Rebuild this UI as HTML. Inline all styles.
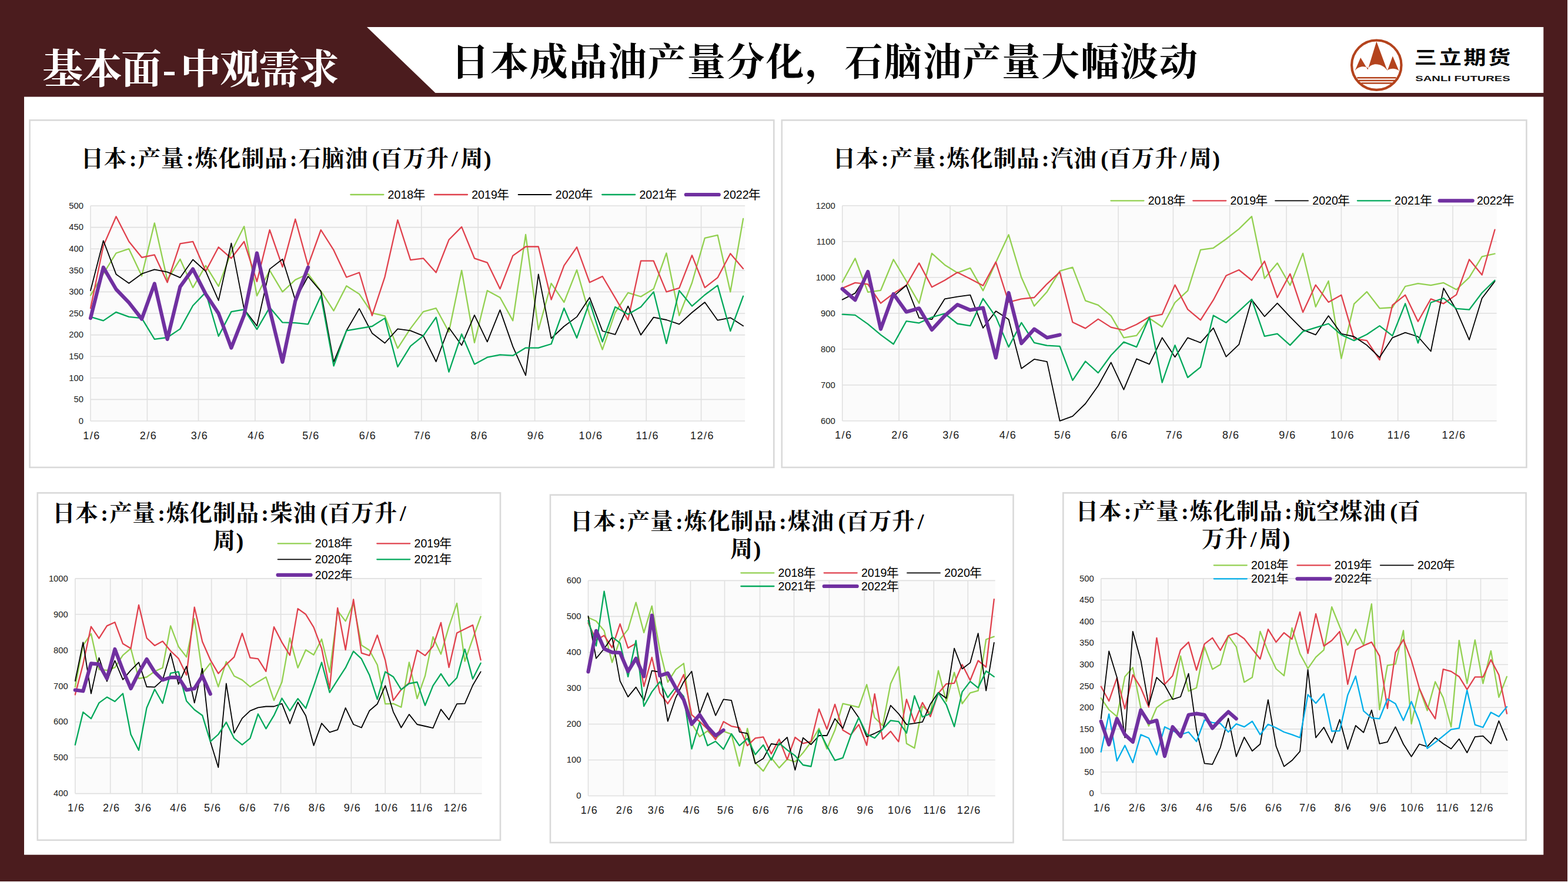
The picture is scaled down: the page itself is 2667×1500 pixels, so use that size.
<!DOCTYPE html>
<html lang="zh-CN"><head><meta charset="utf-8">
<title>日本成品油产量分化，石脑油产量大幅波动</title>
<style>
html,body{margin:0;padding:0;background:#4b1c1e;}
body{width:2667px;height:1500px;overflow:hidden;position:relative;font-family:"Liberation Sans",sans-serif;}
svg{position:absolute;left:0;top:0;display:block}
text{font-family:"Liberation Sans","Noto Sans CJK SC",sans-serif;fill:#1a1a1a}
.yl text{font-size:14.8px;text-anchor:end}
.xl text{font-size:18px;text-anchor:middle;letter-spacing:1.5px}
.lg{font-size:20px;fill:#000}
.lgy{font-size:21px;fill:#000}
.sf{font-size:12.6px;font-weight:700;fill:#111}
.kt{font-family:"Liberation Serif","Noto Serif CJK SC",serif;font-weight:700}
.ct{font-size:38.5px;letter-spacing:0.9px;fill:#000}
.vh{position:absolute;left:0;top:0;width:1px;height:1px;overflow:hidden;clip:rect(0 0 0 0);white-space:nowrap;font-family:"Liberation Sans",sans-serif}
</style></head>
<body>
<svg width="2667" height="1500" viewBox="0 0 2667 1500" role="img" aria-label="基本面-中观需求：日本成品油产量分化，石脑油产量大幅波动">
<rect width="2667" height="1500" fill="#4b1c1e"/>
<path d="M2666.5 0V1500M0 1499.5H2667" stroke="#fff" stroke-width="1" fill="none"/>
<polygon points="624,46 2625.3,46 2625.3,158 740.5,158" fill="#fff"/>
<rect x="41" y="164.6" width="2584.3" height="1289.1" fill="#fff"/>
<text class="kt" x="72" y="141.5" style="font-size:69px;letter-spacing:-2px;fill:#fff">基本面</text>
<text class="kt" x="288" y="141.5" text-anchor="middle" style="font-size:69px;fill:#fff">-</text>
<text class="kt" x="306.7" y="141.5" style="font-size:69px;letter-spacing:-2px;fill:#fff">中观需求</text>
<text class="kt" x="766.98" y="128.3" style="font-size:65px;letter-spacing:1.95px;fill:#000">日本成品油产量分化，石脑油产量大幅波动</text>
<g>
<circle cx="2341.3" cy="110.7" r="42.2" fill="#fff" stroke="#b4431d" stroke-width="4.2"/>
<path d="M2341.3 70.5 L2358.5 117 L2360 119.5 L2368.8 95.5 L2379.5 120.5 C2374 115 2364 116 2359.5 119.8 C2352 108 2334 105 2327.3 116 C2322 111.5 2310 112 2304.5 120.5 L2314.2 98 L2326.5 118.5 Z" fill="#b4431d"/>
<path d="M2308.3 132.2h66.4M2311 136.9h61M2315.5 141.5h52" stroke="#b4431d" stroke-width="2.5" fill="none"/>
</g>
<g transform="translate(2404.0 109.2) scale(1.03 0.85) translate(-2405.5 -110.2)"><text x="2407.3" y="110.2" style="font-size:37px;font-weight:700;letter-spacing:3.6px;fill:#000">三立期货</text></g>
<text x="2407.3" y="138.3" class="sf" textLength="161.5" lengthAdjust="spacingAndGlyphs">SANLI FUTURES</text>
<g><rect x="50.6" y="204.4" width="1265.7" height="590.5" fill="#fff" stroke="#d9d9d9" stroke-width="2.6"/>
<rect x="154.0" y="350.0" width="1113.2" height="366.0" fill="#fbfbfb"/>
<path d="M154.0 716.0H1267.2M154.0 679.4H1267.2M154.0 642.8H1267.2M154.0 606.2H1267.2M154.0 569.6H1267.2M154.0 533.0H1267.2M154.0 496.4H1267.2M154.0 459.8H1267.2M154.0 423.2H1267.2M154.0 386.6H1267.2M154.0 350.0H1267.2M154.0 350.0V716.0M250.4 350.0V716.0M337.5 350.0V716.0M433.9 350.0V716.0M527.1 350.0V716.0M623.5 350.0V716.0M716.8 350.0V716.0M813.2 350.0V716.0M909.6 350.0V716.0M1002.9 350.0V716.0M1099.3 350.0V716.0M1192.6 350.0V716.0" stroke="#e0e0e0" stroke-width="1.6" fill="none"/>
<g class="yl"><text x="142.0" y="720.7">0</text><text x="142.0" y="684.1">50</text><text x="142.0" y="647.5">100</text><text x="142.0" y="610.9">150</text><text x="142.0" y="574.3">200</text><text x="142.0" y="537.7">250</text><text x="142.0" y="501.1">300</text><text x="142.0" y="464.5">350</text><text x="142.0" y="427.9">400</text><text x="142.0" y="391.3">450</text><text x="142.0" y="354.7">500</text></g>
<g class="xl"><text x="156.0" y="746.5">1/6</text><text x="252.4" y="746.5">2/6</text><text x="339.5" y="746.5">3/6</text><text x="435.9" y="746.5">4/6</text><text x="529.1" y="746.5">5/6</text><text x="625.5" y="746.5">6/6</text><text x="718.8" y="746.5">7/6</text><text x="815.2" y="746.5">8/6</text><text x="911.6" y="746.5">9/6</text><text x="1004.9" y="746.5">10/6</text><text x="1101.3" y="746.5">11/6</text><text x="1194.6" y="746.5">12/6</text></g>
<polyline points="154.0,502.3 175.8,465.7 197.5,430.5 219.3,423.2 241.1,469.3 262.8,379.3 284.6,475.9 306.4,440.8 328.1,489.1 349.9,451.7 371.7,486.9 393.4,428.3 415.2,385.1 437.0,503.0 458.7,459.8 480.5,496.4 502.3,475.9 524.0,465.7 545.8,494.9 567.6,528.6 589.3,486.2 611.1,500.1 632.9,532.3 654.6,537.4 676.4,592.3 698.2,558.6 719.9,530.1 741.7,524.2 763.5,564.5 785.2,459.8 807.0,582.8 828.8,494.2 850.5,505.9 872.3,545.4 894.1,399.0 915.8,560.8 937.6,481.8 959.4,514.0 981.1,459.1 1002.9,535.9 1024.7,594.5 1046.4,531.5 1068.2,497.9 1090.0,504.5 1111.7,491.3 1133.5,430.5 1155.3,536.7 1177.0,481.0 1198.8,404.9 1220.6,399.8 1242.3,496.4 1264.1,372.0" fill="none" stroke="#92d050" stroke-width="2.3" stroke-linejoin="round" stroke-linecap="round"/>
<polyline points="154.0,524.2 175.8,418.1 197.5,368.3 219.3,410.8 241.1,437.8 262.8,433.4 284.6,480.3 306.4,414.4 328.1,410.8 349.9,461.3 371.7,420.3 393.4,439.3 415.2,410.8 437.0,478.8 458.7,391.0 480.5,453.9 502.3,372.7 524.0,451.7 545.8,391.0 567.6,425.4 589.3,471.5 611.1,463.5 632.9,536.7 654.6,470.8 676.4,374.2 698.2,442.2 719.9,439.3 741.7,463.5 763.5,407.8 785.2,385.9 807.0,439.3 828.8,446.6 850.5,491.3 872.3,434.9 894.1,419.5 915.8,419.5 937.6,509.6 959.4,451.7 981.1,420.3 1002.9,480.3 1024.7,470.0 1046.4,506.6 1068.2,544.0 1090.0,443.7 1111.7,443.7 1133.5,496.4 1155.3,489.8 1177.0,434.2 1198.8,489.1 1220.6,472.2 1242.3,431.3 1264.1,456.9" fill="none" stroke="#e0404c" stroke-width="2.3" stroke-linejoin="round" stroke-linecap="round"/>
<polyline points="154.0,494.2 175.8,409.3 197.5,466.4 219.3,481.8 241.1,465.7 262.8,458.3 284.6,462.7 306.4,472.2 328.1,441.5 349.9,461.3 371.7,511.0 393.4,413.7 415.2,525.7 437.0,554.2 458.7,457.6 480.5,440.8 502.3,510.3 524.0,470.0 545.8,495.7 567.6,615.7 589.3,562.3 611.1,524.9 632.9,566.7 654.6,583.5 676.4,559.4 698.2,562.3 719.9,571.1 741.7,615.0 763.5,557.2 785.2,587.2 807.0,535.9 828.8,581.3 850.5,527.1 872.3,589.4 894.1,638.4 915.8,466.4 937.6,575.5 959.4,555.0 981.1,538.9 1002.9,505.9 1024.7,563.0 1046.4,568.9 1068.2,520.6 1090.0,569.6 1111.7,539.6 1133.5,544.0 1155.3,551.3 1177.0,531.5 1198.8,514.0 1220.6,544.7 1242.3,540.3 1264.1,554.2" fill="none" stroke="#000000" stroke-width="1.8" stroke-linejoin="round" stroke-linecap="round"/>
<polyline points="154.0,538.9 175.8,545.4 197.5,530.8 219.3,538.9 241.1,541.1 262.8,576.9 284.6,574.0 306.4,559.4 328.1,519.8 349.9,497.1 371.7,571.8 393.4,530.1 415.2,526.4 437.0,560.1 458.7,522.8 480.5,548.4 502.3,549.1 524.0,551.3 545.8,503.0 567.6,622.3 589.3,562.3 611.1,558.6 632.9,555.0 654.6,541.1 676.4,623.8 698.2,588.6 719.9,571.1 741.7,539.6 763.5,632.6 785.2,568.1 807.0,619.4 828.8,607.7 850.5,603.3 872.3,604.7 894.1,591.6 915.8,591.6 937.6,585.0 959.4,524.2 981.1,574.7 1002.9,513.2 1024.7,581.3 1046.4,522.0 1068.2,534.5 1090.0,522.0 1111.7,496.4 1133.5,584.2 1155.3,494.2 1177.0,520.6 1198.8,501.5 1220.6,485.4 1242.3,563.0 1264.1,503.7" fill="none" stroke="#00a85a" stroke-width="2.3" stroke-linejoin="round" stroke-linecap="round"/>
<polyline points="154.0,541.1 175.8,454.7 197.5,492.0 219.3,514.7 241.1,542.5 262.8,482.5 284.6,576.9 306.4,487.6 328.1,457.6 349.9,500.1 371.7,533.0 393.4,591.6 415.2,535.9 437.0,430.5 458.7,526.4 480.5,615.7 502.3,511.8 524.0,454.7" fill="none" stroke="#7030a0" stroke-width="6.2" stroke-linejoin="round" stroke-linecap="round"/>
<path d="M596.4 331.0h56.0" stroke="#92d050" stroke-width="2.3" stroke-linecap="round" fill="none"/>
<text class="lg" x="659.6" y="338.0" textLength="43.6" lengthAdjust="spacingAndGlyphs">2018</text>
<text class="lgy" x="702.4" y="338.1">年</text>
<path d="M739.0 331.0h56.0" stroke="#e0404c" stroke-width="2.3" stroke-linecap="round" fill="none"/>
<text class="lg" x="802.2" y="338.0" textLength="43.6" lengthAdjust="spacingAndGlyphs">2019</text>
<text class="lgy" x="845.0" y="338.1">年</text>
<path d="M881.6 331.0h56.0" stroke="#000000" stroke-width="1.8" stroke-linecap="round" fill="none"/>
<text class="lg" x="944.8" y="338.0" textLength="43.6" lengthAdjust="spacingAndGlyphs">2020</text>
<text class="lgy" x="987.6" y="338.1">年</text>
<path d="M1024.2 331.0h56.0" stroke="#00a85a" stroke-width="2.3" stroke-linecap="round" fill="none"/>
<text class="lg" x="1087.4" y="338.0" textLength="43.6" lengthAdjust="spacingAndGlyphs">2021</text>
<text class="lgy" x="1130.2" y="338.1">年</text>
<path d="M1166.8 331.0h56.0" stroke="#7030a0" stroke-width="6.2" stroke-linecap="round" fill="none"/>
<text class="lg" x="1230.0" y="338.0" textLength="43.6" lengthAdjust="spacingAndGlyphs">2022</text>
<text class="lgy" x="1272.8" y="338.1">年</text>
<text class="kt ct" y="283"><tspan x="137.45">日本</tspan><tspan x="219.65">:</tspan><tspan x="234.65">产量</tspan><tspan x="316.85">:</tspan><tspan x="331.85">炼化制品</tspan><tspan x="492.85">:</tspan><tspan x="507.85">石脑油</tspan><tspan x="632.65">(</tspan><tspan x="645.75">百万升</tspan><tspan x="767.9">/</tspan><tspan x="783.14">周</tspan><tspan x="822.7">)</tspan></text></g>
<g><rect x="1329.8" y="204.4" width="1266.6" height="590.5" fill="#fff" stroke="#d9d9d9" stroke-width="2.6"/>
<rect x="1432.7" y="349.8" width="1112.9" height="366.0" fill="#fbfbfb"/>
<path d="M1432.7 715.8H2545.6M1432.7 654.8H2545.6M1432.7 593.8H2545.6M1432.7 532.8H2545.6M1432.7 471.8H2545.6M1432.7 410.8H2545.6M1432.7 349.8H2545.6M1432.7 349.8V715.8M1529.1 349.8V715.8M1616.1 349.8V715.8M1712.5 349.8V715.8M1805.7 349.8V715.8M1902.1 349.8V715.8M1995.4 349.8V715.8M2091.7 349.8V715.8M2188.1 349.8V715.8M2281.4 349.8V715.8M2377.7 349.8V715.8M2471.0 349.8V715.8" stroke="#e0e0e0" stroke-width="1.6" fill="none"/>
<g class="yl"><text x="1420.7" y="720.5">600</text><text x="1420.7" y="659.5">700</text><text x="1420.7" y="598.5">800</text><text x="1420.7" y="537.5">900</text><text x="1420.7" y="476.5">1000</text><text x="1420.7" y="415.5">1100</text><text x="1420.7" y="354.5">1200</text></g>
<g class="xl"><text x="1434.7" y="746.3">1/6</text><text x="1531.1" y="746.3">2/6</text><text x="1618.1" y="746.3">3/6</text><text x="1714.5" y="746.3">4/6</text><text x="1807.7" y="746.3">5/6</text><text x="1904.1" y="746.3">6/6</text><text x="1997.4" y="746.3">7/6</text><text x="2093.7" y="746.3">8/6</text><text x="2190.1" y="746.3">9/6</text><text x="2283.4" y="746.3">10/6</text><text x="2379.7" y="746.3">11/6</text><text x="2473.0" y="746.3">12/6</text></g>
<polyline points="1432.7,479.7 1454.5,439.5 1476.2,496.8 1498.0,493.8 1519.7,441.3 1541.5,477.9 1563.3,515.7 1585.0,430.9 1606.8,450.4 1628.5,463.9 1650.3,455.9 1672.1,494.4 1693.8,446.2 1715.6,399.2 1737.3,471.8 1759.1,520.6 1780.9,496.2 1802.6,460.8 1824.4,454.7 1846.2,511.4 1867.9,518.8 1889.7,537.1 1911.4,574.3 1933.2,570.6 1955.0,541.3 1976.7,556.0 1998.5,514.5 2020.2,494.4 2042.0,424.8 2063.8,421.8 2085.5,406.5 2107.3,389.4 2129.0,368.1 2150.8,473.6 2172.6,447.4 2194.3,485.2 2216.1,430.9 2237.8,521.8 2259.6,477.9 2281.4,609.7 2303.1,516.9 2324.9,496.2 2346.6,524.3 2368.4,523.0 2390.2,487.0 2411.9,482.2 2433.7,485.2 2455.4,480.9 2477.2,492.5 2499.0,471.8 2520.7,436.4 2542.5,431.5" fill="none" stroke="#92d050" stroke-width="2.3" stroke-linejoin="round" stroke-linecap="round"/>
<polyline points="1432.7,490.1 1454.5,480.9 1476.2,483.4 1498.0,515.7 1519.7,499.2 1541.5,485.2 1563.3,447.4 1585.0,488.3 1606.8,476.7 1628.5,463.3 1650.3,474.2 1672.1,485.8 1693.8,445.6 1715.6,513.9 1737.3,508.4 1759.1,506.0 1780.9,482.8 1802.6,462.6 1824.4,548.0 1846.2,558.4 1867.9,542.6 1889.7,556.6 1911.4,561.5 1933.2,551.7 1955.0,538.9 1976.7,534.6 1998.5,484.6 2020.2,526.1 2042.0,544.4 2063.8,510.2 2085.5,468.8 2107.3,459.0 2129.0,476.7 2150.8,444.3 2172.6,506.0 2194.3,465.7 2216.1,531.0 2237.8,484.6 2259.6,513.9 2281.4,501.7 2303.1,576.1 2324.9,579.2 2346.6,612.1 2368.4,518.8 2390.2,501.7 2411.9,546.8 2433.7,508.4 2455.4,516.3 2477.2,501.1 2499.0,441.3 2520.7,467.5 2542.5,390.7" fill="none" stroke="#e0404c" stroke-width="2.3" stroke-linejoin="round" stroke-linecap="round"/>
<polyline points="1432.7,509.6 1454.5,498.6 1476.2,465.1 1498.0,559.0 1519.7,504.1 1541.5,485.2 1563.3,540.7 1585.0,543.2 1606.8,508.4 1628.5,504.7 1650.3,501.7 1672.1,557.8 1693.8,529.1 1715.6,543.2 1737.3,626.7 1759.1,610.9 1780.9,615.1 1802.6,715.8 1824.4,707.9 1846.2,686.5 1867.9,656.0 1889.7,616.4 1911.4,662.7 1933.2,610.3 1955.0,619.4 1976.7,574.3 1998.5,607.2 2020.2,574.3 2042.0,582.8 2063.8,557.8 2085.5,606.6 2107.3,585.9 2129.0,509.6 2150.8,538.3 2172.6,515.7 2194.3,538.9 2216.1,560.9 2237.8,569.4 2259.6,537.1 2281.4,567.6 2303.1,572.5 2324.9,587.1 2346.6,607.8 2368.4,574.3 2390.2,565.7 2411.9,572.5 2433.7,597.5 2455.4,490.1 2477.2,527.3 2499.0,577.9 2520.7,507.2 2542.5,478.5" fill="none" stroke="#000000" stroke-width="1.8" stroke-linejoin="round" stroke-linecap="round"/>
<polyline points="1432.7,534.6 1454.5,535.9 1476.2,551.1 1498.0,569.4 1519.7,585.3 1541.5,546.2 1563.3,549.3 1585.0,539.5 1606.8,533.4 1628.5,550.5 1650.3,554.1 1672.1,507.8 1693.8,538.9 1715.6,590.1 1737.3,548.7 1759.1,582.8 1780.9,587.7 1802.6,588.9 1824.4,646.9 1846.2,614.5 1867.9,634.1 1889.7,604.2 1911.4,581.6 1933.2,590.1 1955.0,539.5 1976.7,650.5 1998.5,587.1 2020.2,642.0 2042.0,624.3 2063.8,536.5 2085.5,548.7 2107.3,529.1 2129.0,509.0 2150.8,571.8 2172.6,567.6 2194.3,587.1 2216.1,563.9 2237.8,557.2 2259.6,550.5 2281.4,569.4 2303.1,579.2 2324.9,568.8 2346.6,554.1 2368.4,571.2 2390.2,516.3 2411.9,583.4 2433.7,514.5 2455.4,507.2 2477.2,524.9 2499.0,526.7 2520.7,498.0 2542.5,476.7" fill="none" stroke="#00a85a" stroke-width="2.3" stroke-linejoin="round" stroke-linecap="round"/>
<polyline points="1432.7,491.3 1454.5,510.2 1476.2,462.0 1498.0,559.6 1519.7,499.9 1541.5,530.4 1563.3,524.3 1585.0,560.9 1606.8,537.1 1628.5,518.2 1650.3,527.3 1672.1,523.6 1693.8,608.4 1715.6,498.0 1737.3,584.0 1759.1,559.6 1780.9,574.3 1802.6,569.4" fill="none" stroke="#7030a0" stroke-width="6.2" stroke-linejoin="round" stroke-linecap="round"/>
<path d="M1889.5 341.3h56.0" stroke="#92d050" stroke-width="2.3" stroke-linecap="round" fill="none"/>
<text class="lg" x="1952.7" y="348.3" textLength="43.6" lengthAdjust="spacingAndGlyphs">2018</text>
<text class="lgy" x="1995.5" y="348.4">年</text>
<path d="M2029.3 341.3h56.0" stroke="#e0404c" stroke-width="2.3" stroke-linecap="round" fill="none"/>
<text class="lg" x="2092.5" y="348.3" textLength="43.6" lengthAdjust="spacingAndGlyphs">2019</text>
<text class="lgy" x="2135.3" y="348.4">年</text>
<path d="M2169.1 341.3h56.0" stroke="#000000" stroke-width="1.8" stroke-linecap="round" fill="none"/>
<text class="lg" x="2232.3" y="348.3" textLength="43.6" lengthAdjust="spacingAndGlyphs">2020</text>
<text class="lgy" x="2275.1" y="348.4">年</text>
<path d="M2308.9 341.3h56.0" stroke="#00a85a" stroke-width="2.3" stroke-linecap="round" fill="none"/>
<text class="lg" x="2372.1" y="348.3" textLength="43.6" lengthAdjust="spacingAndGlyphs">2021</text>
<text class="lgy" x="2414.9" y="348.4">年</text>
<path d="M2448.7 341.3h56.0" stroke="#7030a0" stroke-width="6.2" stroke-linecap="round" fill="none"/>
<text class="lg" x="2511.9" y="348.3" textLength="43.6" lengthAdjust="spacingAndGlyphs">2022</text>
<text class="lgy" x="2554.7" y="348.4">年</text>
<text class="kt ct" y="283"><tspan x="1416.45">日本</tspan><tspan x="1498.65">:</tspan><tspan x="1513.65">产量</tspan><tspan x="1595.85">:</tspan><tspan x="1610.85">炼化制品</tspan><tspan x="1771.85">:</tspan><tspan x="1786.85">汽油</tspan><tspan x="1872.25">(</tspan><tspan x="1885.35">百万升</tspan><tspan x="2007.5">/</tspan><tspan x="2022.74">周</tspan><tspan x="2062.3">)</tspan></text></g>
<g><rect x="63.8" y="838.3" width="787.2" height="590.5" fill="#fff" stroke="#d9d9d9" stroke-width="2.6"/>
<rect x="127.8" y="983.9" width="691.8" height="365.7" fill="#fbfbfb"/>
<path d="M127.8 1349.6H819.6M127.8 1288.6H819.6M127.8 1227.7H819.6M127.8 1166.8H819.6M127.8 1105.8H819.6M127.8 1044.8H819.6M127.8 983.9H819.6M127.8 983.9V1349.6M187.7 983.9V1349.6M241.8 983.9V1349.6M301.7 983.9V1349.6M359.7 983.9V1349.6M419.6 983.9V1349.6M477.6 983.9V1349.6M537.5 983.9V1349.6M597.4 983.9V1349.6M655.3 983.9V1349.6M715.3 983.9V1349.6M773.2 983.9V1349.6" stroke="#e0e0e0" stroke-width="1.6" fill="none"/>
<g class="yl"><text x="115.8" y="1354.3">400</text><text x="115.8" y="1293.3">500</text><text x="115.8" y="1232.4">600</text><text x="115.8" y="1171.5">700</text><text x="115.8" y="1110.5">800</text><text x="115.8" y="1049.5">900</text><text x="115.8" y="988.6">1000</text></g>
<g class="xl"><text x="129.8" y="1380.1">1/6</text><text x="189.7" y="1380.1">2/6</text><text x="243.8" y="1380.1">3/6</text><text x="303.7" y="1380.1">4/6</text><text x="361.7" y="1380.1">5/6</text><text x="421.6" y="1380.1">6/6</text><text x="479.6" y="1380.1">7/6</text><text x="539.5" y="1380.1">8/6</text><text x="599.4" y="1380.1">9/6</text><text x="657.3" y="1380.1">10/6</text><text x="717.3" y="1380.1">11/6</text><text x="775.2" y="1380.1">12/6</text></g>
<polyline points="127.8,1168.0 141.3,1097.3 154.9,1077.8 168.4,1138.7 181.9,1139.9 195.4,1135.1 209.0,1114.3 222.5,1102.8 236.0,1154.0 249.5,1151.5 263.1,1141.8 276.6,1135.7 290.1,1064.4 303.6,1099.7 317.2,1117.4 330.7,1052.2 344.2,1145.4 357.8,1127.7 371.3,1168.0 384.8,1125.3 398.3,1149.7 411.9,1156.4 425.4,1168.0 438.9,1159.4 452.4,1151.5 466.0,1191.1 479.5,1160.0 493.0,1085.1 506.6,1135.7 520.1,1105.2 533.6,1113.7 547.1,1086.9 560.7,1143.6 574.2,1038.8 587.7,1056.4 601.2,1026.0 614.8,1097.3 628.3,1105.8 641.8,1130.8 655.3,1197.2 668.9,1196.6 682.4,1202.7 695.9,1126.5 709.5,1188.1 723.0,1149.7 736.5,1083.2 750.0,1112.5 763.6,1065.6 777.1,1026.0 790.6,1124.7 804.1,1086.3 817.7,1048.5" fill="none" stroke="#92d050" stroke-width="2.3" stroke-linejoin="round" stroke-linecap="round"/>
<polyline points="127.8,1181.4 141.3,1129.6 154.9,1065.6 168.4,1085.7 181.9,1064.4 195.4,1058.3 209.0,1094.8 222.5,1102.8 236.0,1029.0 249.5,1085.1 263.1,1097.9 276.6,1090.6 290.1,1107.0 303.6,1119.8 317.2,1147.9 330.7,1032.7 344.2,1091.2 357.8,1122.3 371.3,1145.4 384.8,1130.2 398.3,1117.4 411.9,1077.2 425.4,1118.6 438.9,1120.4 452.4,1141.8 466.0,1066.2 479.5,1092.4 493.0,1114.3 506.6,1035.1 520.1,1044.8 533.6,1066.8 547.1,1102.8 560.7,1171.0 574.2,1033.9 587.7,1105.2 601.2,1019.3 614.8,1110.7 628.3,1114.9 641.8,1080.2 655.3,1122.9 668.9,1191.1 682.4,1172.8 695.9,1161.3 709.5,1105.8 723.0,1114.9 736.5,1099.1 750.0,1058.9 763.6,1135.1 777.1,1076.5 790.6,1069.8 804.1,1063.1 817.7,1122.3" fill="none" stroke="#e0404c" stroke-width="2.3" stroke-linejoin="round" stroke-linecap="round"/>
<polyline points="127.8,1158.2 141.3,1092.4 154.9,1179.5 168.4,1118.6 181.9,1158.8 195.4,1123.5 209.0,1155.8 222.5,1139.9 236.0,1126.5 249.5,1168.0 263.1,1168.6 276.6,1156.4 290.1,1110.7 303.6,1163.7 317.2,1133.2 330.7,1195.4 344.2,1136.9 357.8,1261.2 371.3,1305.1 384.8,1162.5 398.3,1246.6 411.9,1221.6 425.4,1208.8 438.9,1203.3 452.4,1201.5 466.0,1201.5 479.5,1196.6 493.0,1230.7 506.6,1194.2 520.1,1217.3 533.6,1267.9 547.1,1230.1 560.7,1245.4 574.2,1241.1 587.7,1203.9 601.2,1232.0 614.8,1237.5 628.3,1208.8 641.8,1197.2 655.3,1166.1 668.9,1210.6 682.4,1237.5 695.9,1214.9 709.5,1232.0 723.0,1235.0 736.5,1238.1 750.0,1206.4 763.6,1224.0 777.1,1197.2 790.6,1196.6 804.1,1165.5 817.7,1142.4" fill="none" stroke="#000000" stroke-width="1.8" stroke-linejoin="round" stroke-linecap="round"/>
<polyline points="127.8,1266.7 141.3,1211.2 154.9,1222.2 168.4,1195.4 181.9,1185.6 195.4,1193.0 209.0,1179.5 222.5,1249.0 236.0,1275.9 249.5,1203.9 263.1,1172.2 276.6,1196.0 290.1,1144.8 303.6,1142.4 317.2,1192.3 330.7,1207.0 344.2,1216.7 357.8,1261.2 371.3,1249.0 384.8,1228.3 398.3,1255.7 411.9,1266.7 425.4,1255.7 438.9,1214.3 452.4,1239.3 466.0,1216.7 479.5,1187.5 493.0,1208.8 506.6,1188.1 520.1,1204.5 533.6,1166.8 547.1,1126.5 560.7,1177.7 574.2,1156.4 587.7,1135.7 601.2,1107.6 614.8,1120.4 628.3,1147.9 641.8,1189.3 655.3,1142.4 668.9,1150.9 682.4,1172.8 695.9,1162.5 709.5,1160.0 723.0,1199.7 736.5,1166.1 750.0,1146.0 763.6,1166.8 777.1,1152.7 790.6,1104.0 804.1,1154.6 817.7,1127.7" fill="none" stroke="#00a85a" stroke-width="2.3" stroke-linejoin="round" stroke-linecap="round"/>
<polyline points="127.8,1173.5 141.3,1175.3 154.9,1128.4 168.4,1129.6 181.9,1154.0 195.4,1104.0 209.0,1139.9 222.5,1171.0 236.0,1144.2 249.5,1121.0 263.1,1143.0 276.6,1156.4 290.1,1152.1 303.6,1152.1 317.2,1173.5 330.7,1171.0 344.2,1149.7 357.8,1180.2" fill="none" stroke="#7030a0" stroke-width="6.2" stroke-linejoin="round" stroke-linecap="round"/>
<path d="M472.6 924.3h56.0" stroke="#92d050" stroke-width="2.3" stroke-linecap="round" fill="none"/>
<text class="lg" x="535.8" y="931.3" textLength="43.6" lengthAdjust="spacingAndGlyphs">2018</text>
<text class="lgy" x="578.6" y="931.4">年</text>
<path d="M641.3 924.3h56.0" stroke="#e0404c" stroke-width="2.3" stroke-linecap="round" fill="none"/>
<text class="lg" x="704.5" y="931.3" textLength="43.6" lengthAdjust="spacingAndGlyphs">2019</text>
<text class="lgy" x="747.3" y="931.4">年</text>
<path d="M472.6 951.3h56.0" stroke="#000000" stroke-width="1.8" stroke-linecap="round" fill="none"/>
<text class="lg" x="535.8" y="958.3" textLength="43.6" lengthAdjust="spacingAndGlyphs">2020</text>
<text class="lgy" x="578.6" y="958.4">年</text>
<path d="M641.3 951.3h56.0" stroke="#00a85a" stroke-width="2.3" stroke-linecap="round" fill="none"/>
<text class="lg" x="704.5" y="958.3" textLength="43.6" lengthAdjust="spacingAndGlyphs">2021</text>
<text class="lgy" x="747.3" y="958.4">年</text>
<path d="M472.6 977.8h56.0" stroke="#7030a0" stroke-width="6.2" stroke-linecap="round" fill="none"/>
<text class="lg" x="535.8" y="984.8" textLength="43.6" lengthAdjust="spacingAndGlyphs">2022</text>
<text class="lgy" x="578.6" y="984.9">年</text>
<text class="kt ct" y="885.5"><tspan x="88.95">日本</tspan><tspan x="171.15">:</tspan><tspan x="186.15">产量</tspan><tspan x="268.35">:</tspan><tspan x="283.35">炼化制品</tspan><tspan x="444.35">:</tspan><tspan x="459.35">柴油</tspan><tspan x="544.75">(</tspan><tspan x="557.85">百万升</tspan><tspan x="680.0">/</tspan></text>
<text class="kt ct" y="932.5"><tspan x="361.95">周</tspan><tspan x="401.55">)</tspan></text></g>
<g><rect x="936.0" y="841.7" width="787.5" height="591.3" fill="#fff" stroke="#d9d9d9" stroke-width="2.6"/>
<rect x="1000.5" y="987.4" width="692.2" height="366.1" fill="#fbfbfb"/>
<path d="M1000.5 1353.5H1692.7M1000.5 1292.5H1692.7M1000.5 1231.5H1692.7M1000.5 1170.5H1692.7M1000.5 1109.4H1692.7M1000.5 1048.4H1692.7M1000.5 987.4H1692.7M1000.5 987.4V1353.5M1060.4 987.4V1353.5M1114.6 987.4V1353.5M1174.5 987.4V1353.5M1232.5 987.4V1353.5M1292.5 987.4V1353.5M1350.5 987.4V1353.5M1410.4 987.4V1353.5M1470.3 987.4V1353.5M1528.4 987.4V1353.5M1588.3 987.4V1353.5M1646.3 987.4V1353.5" stroke="#e0e0e0" stroke-width="1.6" fill="none"/>
<g class="yl"><text x="988.5" y="1358.2">0</text><text x="988.5" y="1297.2">100</text><text x="988.5" y="1236.2">200</text><text x="988.5" y="1175.2">300</text><text x="988.5" y="1114.1">400</text><text x="988.5" y="1053.1">500</text><text x="988.5" y="992.1">600</text></g>
<g class="xl"><text x="1002.5" y="1384.0">1/6</text><text x="1062.4" y="1384.0">2/6</text><text x="1116.6" y="1384.0">3/6</text><text x="1176.5" y="1384.0">4/6</text><text x="1234.5" y="1384.0">5/6</text><text x="1294.5" y="1384.0">6/6</text><text x="1352.5" y="1384.0">7/6</text><text x="1412.4" y="1384.0">8/6</text><text x="1472.3" y="1384.0">9/6</text><text x="1530.4" y="1384.0">10/6</text><text x="1590.3" y="1384.0">11/6</text><text x="1648.3" y="1384.0">12/6</text></g>
<polyline points="1000.5,1050.2 1014.0,1056.3 1027.6,1072.8 1041.1,1126.5 1054.6,1087.5 1068.2,1070.4 1081.7,1024.6 1095.2,1075.9 1108.8,1030.7 1122.3,1105.2 1135.8,1160.1 1149.4,1138.7 1162.9,1128.3 1176.5,1230.2 1190.0,1252.8 1203.5,1243.1 1217.1,1256.5 1230.6,1243.7 1244.1,1248.6 1257.7,1302.9 1271.2,1238.8 1284.7,1297.4 1298.3,1311.4 1311.8,1288.8 1325.3,1305.9 1338.9,1291.3 1352.4,1295.5 1365.9,1280.3 1379.5,1262.0 1393.0,1238.8 1406.5,1273.6 1420.1,1241.8 1433.6,1196.7 1447.1,1199.7 1460.7,1202.8 1474.2,1164.3 1487.7,1220.5 1501.3,1233.9 1514.8,1163.1 1528.4,1133.8 1541.9,1264.4 1555.4,1272.3 1569.0,1201.0 1582.5,1212.6 1596.0,1140.6 1609.6,1193.0 1623.1,1143.6 1636.6,1196.7 1650.2,1178.4 1663.7,1174.7 1677.2,1087.5 1690.8,1082.6" fill="none" stroke="#92d050" stroke-width="2.3" stroke-linejoin="round" stroke-linecap="round"/>
<polyline points="1000.5,1059.4 1014.0,1088.7 1027.6,1080.8 1041.1,1101.5 1054.6,1061.2 1068.2,1102.1 1081.7,1094.2 1095.2,1167.4 1108.8,1118.0 1122.3,1178.4 1135.8,1196.7 1149.4,1175.3 1162.9,1147.3 1176.5,1215.6 1190.0,1227.2 1203.5,1240.0 1217.1,1257.7 1230.6,1227.2 1244.1,1235.1 1257.7,1237.6 1271.2,1268.1 1284.7,1255.3 1298.3,1253.4 1311.8,1282.1 1325.3,1257.1 1338.9,1291.9 1352.4,1254.0 1365.9,1264.4 1379.5,1260.8 1393.0,1205.8 1406.5,1240.0 1420.1,1197.9 1433.6,1241.8 1447.1,1249.8 1460.7,1232.1 1474.2,1267.5 1487.7,1180.2 1501.3,1257.1 1514.8,1243.7 1528.4,1261.4 1541.9,1189.4 1555.4,1228.4 1569.0,1194.9 1582.5,1218.7 1596.0,1179.0 1609.6,1163.1 1623.1,1161.9 1636.6,1130.2 1650.2,1157.0 1663.7,1123.5 1677.2,1134.5 1690.8,1019.1" fill="none" stroke="#e0404c" stroke-width="2.3" stroke-linejoin="round" stroke-linecap="round"/>
<polyline points="1000.5,1047.8 1014.0,1119.8 1027.6,1103.3 1041.1,1083.8 1054.6,1158.2 1068.2,1185.1 1081.7,1168.6 1095.2,1191.2 1108.8,1140.6 1122.3,1143.0 1135.8,1226.6 1149.4,1186.3 1162.9,1159.5 1176.5,1141.8 1190.0,1213.8 1203.5,1178.4 1217.1,1216.8 1230.6,1189.4 1244.1,1191.2 1257.7,1244.9 1271.2,1247.3 1284.7,1298.6 1298.3,1290.0 1311.8,1265.0 1325.3,1266.9 1338.9,1254.0 1352.4,1309.6 1365.9,1254.7 1379.5,1266.2 1393.0,1251.0 1406.5,1251.0 1420.1,1222.3 1433.6,1238.8 1447.1,1201.0 1460.7,1220.5 1474.2,1252.8 1487.7,1247.3 1501.3,1240.6 1514.8,1199.7 1528.4,1213.8 1541.9,1232.1 1555.4,1230.2 1569.0,1227.8 1582.5,1197.3 1596.0,1177.8 1609.6,1187.5 1623.1,1102.7 1636.6,1137.5 1650.2,1127.1 1663.7,1077.1 1677.2,1174.7 1690.8,1093.0" fill="none" stroke="#000000" stroke-width="1.8" stroke-linejoin="round" stroke-linecap="round"/>
<polyline points="1000.5,1055.7 1014.0,1098.5 1027.6,1005.7 1041.1,1083.2 1054.6,1093.6 1068.2,1150.9 1081.7,1089.3 1095.2,1201.0 1108.8,1176.6 1122.3,1159.5 1135.8,1186.3 1149.4,1168.6 1162.9,1184.5 1176.5,1273.6 1190.0,1228.4 1203.5,1268.1 1217.1,1260.8 1230.6,1274.2 1244.1,1247.9 1257.7,1268.1 1271.2,1255.9 1284.7,1283.3 1298.3,1266.9 1311.8,1292.5 1325.3,1263.8 1338.9,1275.4 1352.4,1285.2 1365.9,1301.0 1379.5,1303.5 1393.0,1241.8 1406.5,1268.7 1420.1,1293.1 1433.6,1288.8 1447.1,1251.0 1460.7,1220.5 1474.2,1248.6 1487.7,1255.3 1501.3,1240.0 1514.8,1225.4 1528.4,1227.2 1541.9,1246.7 1555.4,1183.3 1569.0,1219.3 1582.5,1213.8 1596.0,1178.4 1609.6,1198.5 1623.1,1235.7 1636.6,1176.6 1650.2,1158.9 1663.7,1169.8 1677.2,1141.2 1690.8,1150.9" fill="none" stroke="#00a85a" stroke-width="2.3" stroke-linejoin="round" stroke-linecap="round"/>
<polyline points="1000.5,1142.4 1014.0,1072.8 1027.6,1103.3 1041.1,1109.4 1054.6,1110.0 1068.2,1141.8 1081.7,1119.8 1095.2,1150.3 1108.8,1046.6 1122.3,1149.1 1135.8,1144.8 1149.4,1169.8 1162.9,1190.0 1176.5,1231.5 1190.0,1215.6 1203.5,1236.3 1217.1,1251.0 1230.6,1241.8" fill="none" stroke="#7030a0" stroke-width="6.2" stroke-linejoin="round" stroke-linecap="round"/>
<path d="M1260.4 974.3h56.0" stroke="#92d050" stroke-width="2.3" stroke-linecap="round" fill="none"/>
<text class="lg" x="1323.6" y="981.3" textLength="43.6" lengthAdjust="spacingAndGlyphs">2018</text>
<text class="lgy" x="1366.4" y="981.4">年</text>
<path d="M1401.7 974.3h56.0" stroke="#e0404c" stroke-width="2.3" stroke-linecap="round" fill="none"/>
<text class="lg" x="1464.9" y="981.3" textLength="43.6" lengthAdjust="spacingAndGlyphs">2019</text>
<text class="lgy" x="1507.7" y="981.4">年</text>
<path d="M1543.0 974.3h56.0" stroke="#000000" stroke-width="1.8" stroke-linecap="round" fill="none"/>
<text class="lg" x="1606.2" y="981.3" textLength="43.6" lengthAdjust="spacingAndGlyphs">2020</text>
<text class="lgy" x="1649.0" y="981.4">年</text>
<path d="M1260.4 997.0h56.0" stroke="#00a85a" stroke-width="2.3" stroke-linecap="round" fill="none"/>
<text class="lg" x="1323.6" y="1004.0" textLength="43.6" lengthAdjust="spacingAndGlyphs">2021</text>
<text class="lgy" x="1366.4" y="1004.1">年</text>
<path d="M1401.7 997.0h56.0" stroke="#7030a0" stroke-width="6.2" stroke-linecap="round" fill="none"/>
<text class="lg" x="1464.9" y="1004.0" textLength="43.6" lengthAdjust="spacingAndGlyphs">2022</text>
<text class="lgy" x="1507.7" y="1004.1">年</text>
<text class="kt ct" y="900"><tspan x="969.65">日本</tspan><tspan x="1051.85">:</tspan><tspan x="1066.85">产量</tspan><tspan x="1149.05">:</tspan><tspan x="1164.05">炼化制品</tspan><tspan x="1325.05">:</tspan><tspan x="1340.05">煤油</tspan><tspan x="1425.45">(</tspan><tspan x="1438.55">百万升</tspan><tspan x="1560.7">/</tspan></text>
<text class="kt ct" y="947"><tspan x="1241.95">周</tspan><tspan x="1281.55">)</tspan></text></g>
<g><rect x="1808.3" y="838.3" width="787.3" height="590.5" fill="#fff" stroke="#d9d9d9" stroke-width="2.6"/>
<rect x="1872.7" y="983.9" width="692.2" height="365.7" fill="#fbfbfb"/>
<path d="M1872.7 1349.6H2564.9M1872.7 1313.0H2564.9M1872.7 1276.5H2564.9M1872.7 1239.9H2564.9M1872.7 1203.3H2564.9M1872.7 1166.8H2564.9M1872.7 1130.2H2564.9M1872.7 1093.6H2564.9M1872.7 1057.0H2564.9M1872.7 1020.5H2564.9M1872.7 983.9H2564.9M1872.7 983.9V1349.6M1932.6 983.9V1349.6M1986.8 983.9V1349.6M2046.7 983.9V1349.6M2104.7 983.9V1349.6M2164.7 983.9V1349.6M2222.7 983.9V1349.6M2282.6 983.9V1349.6M2342.5 983.9V1349.6M2400.6 983.9V1349.6M2460.5 983.9V1349.6M2518.5 983.9V1349.6" stroke="#e0e0e0" stroke-width="1.6" fill="none"/>
<g class="yl"><text x="1860.7" y="1354.3">0</text><text x="1860.7" y="1317.7">50</text><text x="1860.7" y="1281.2">100</text><text x="1860.7" y="1244.6">150</text><text x="1860.7" y="1208.0">200</text><text x="1860.7" y="1171.5">250</text><text x="1860.7" y="1134.9">300</text><text x="1860.7" y="1098.3">350</text><text x="1860.7" y="1061.7">400</text><text x="1860.7" y="1025.2">450</text><text x="1860.7" y="988.6">500</text></g>
<g class="xl"><text x="1874.7" y="1380.1">1/6</text><text x="1934.6" y="1380.1">2/6</text><text x="1988.8" y="1380.1">3/6</text><text x="2048.7" y="1380.1">4/6</text><text x="2106.7" y="1380.1">5/6</text><text x="2166.7" y="1380.1">6/6</text><text x="2224.7" y="1380.1">7/6</text><text x="2284.6" y="1380.1">8/6</text><text x="2344.5" y="1380.1">9/6</text><text x="2402.6" y="1380.1">10/6</text><text x="2462.5" y="1380.1">11/6</text><text x="2520.5" y="1380.1">12/6</text></g>
<polyline points="1872.7,1187.2 1886.2,1207.0 1899.8,1218.7 1913.3,1150.7 1926.8,1135.3 1940.4,1204.1 1953.9,1234.8 1967.4,1203.3 1981.0,1193.1 1994.5,1188.0 2008.0,1115.6 2021.6,1175.5 2035.1,1169.7 2048.7,1100.2 2062.2,1138.2 2075.7,1130.2 2089.3,1081.2 2102.8,1100.2 2116.3,1160.2 2129.9,1152.1 2143.4,1073.9 2156.9,1108.2 2170.5,1137.5 2184.0,1149.2 2197.5,1068.0 2211.1,1111.9 2224.6,1136.8 2238.1,1117.7 2251.7,1105.3 2265.2,1032.2 2278.7,1065.8 2292.3,1097.3 2305.8,1070.2 2319.3,1097.3 2332.9,1027.1 2346.4,1207.0 2359.9,1131.6 2373.5,1129.4 2387.0,1072.4 2400.6,1231.1 2414.1,1170.4 2427.6,1208.4 2441.2,1159.4 2454.7,1186.5 2468.2,1236.2 2481.8,1089.2 2495.3,1162.4 2508.8,1088.5 2522.4,1162.4 2535.9,1106.8 2549.4,1185.8 2563.0,1150.7" fill="none" stroke="#92d050" stroke-width="2.3" stroke-linejoin="round" stroke-linecap="round"/>
<polyline points="1872.7,1167.5 1886.2,1192.3 1899.8,1152.9 1913.3,1205.5 1926.8,1147.7 1940.4,1169.7 1953.9,1202.6 1967.4,1084.8 1981.0,1163.8 1994.5,1149.2 2008.0,1105.3 2021.6,1092.1 2035.1,1139.7 2048.7,1095.1 2062.2,1084.8 2075.7,1106.0 2089.3,1081.2 2102.8,1076.8 2116.3,1086.3 2129.9,1103.8 2143.4,1120.7 2156.9,1070.2 2170.5,1092.1 2184.0,1076.1 2197.5,1087.0 2211.1,1040.9 2224.6,1111.2 2238.1,1043.9 2251.7,1098.7 2265.2,1089.2 2278.7,1073.9 2292.3,1163.8 2305.8,1105.3 2319.3,1098.0 2332.9,1092.1 2346.4,1115.6 2359.9,1204.8 2373.5,1109.7 2387.0,1087.8 2400.6,1122.9 2414.1,1170.4 2427.6,1201.1 2441.2,1222.3 2454.7,1138.2 2468.2,1141.9 2481.8,1150.7 2495.3,1172.6 2508.8,1151.4 2522.4,1151.4 2535.9,1122.1 2549.4,1147.7 2563.0,1213.6" fill="none" stroke="#e0404c" stroke-width="2.3" stroke-linejoin="round" stroke-linecap="round"/>
<polyline points="1872.7,1222.3 1886.2,1107.5 1899.8,1152.1 1913.3,1254.5 1926.8,1073.9 1940.4,1122.9 1953.9,1199.7 1967.4,1152.1 1981.0,1165.3 1994.5,1189.4 2008.0,1185.0 2021.6,1145.5 2035.1,1241.4 2048.7,1298.4 2062.2,1299.9 2075.7,1271.3 2089.3,1221.6 2102.8,1286.7 2116.3,1253.8 2129.9,1277.2 2143.4,1265.5 2156.9,1190.2 2170.5,1269.1 2184.0,1303.5 2197.5,1293.3 2211.1,1277.9 2224.6,1139.0 2238.1,1254.5 2251.7,1237.0 2265.2,1263.3 2278.7,1223.8 2292.3,1274.3 2305.8,1234.0 2319.3,1245.7 2332.9,1207.7 2346.4,1264.8 2359.9,1261.8 2373.5,1236.2 2387.0,1265.5 2400.6,1286.7 2414.1,1265.5 2427.6,1269.9 2441.2,1254.5 2454.7,1264.8 2468.2,1273.5 2481.8,1256.7 2495.3,1280.1 2508.8,1253.1 2522.4,1251.6 2535.9,1264.8 2549.4,1226.0 2563.0,1258.9" fill="none" stroke="#000000" stroke-width="1.8" stroke-linejoin="round" stroke-linecap="round"/>
<polyline points="1872.7,1278.7 1886.2,1214.3 1899.8,1294.0 1913.3,1267.7 1926.8,1296.9 1940.4,1249.4 1953.9,1255.2 1967.4,1283.8 1981.0,1236.2 1994.5,1242.8 2008.0,1249.4 2021.6,1245.0 2035.1,1261.1 2048.7,1224.5 2062.2,1228.9 2075.7,1230.4 2089.3,1245.0 2102.8,1231.1 2116.3,1236.2 2129.9,1226.7 2143.4,1249.4 2156.9,1231.8 2170.5,1237.7 2184.0,1245.0 2197.5,1249.4 2211.1,1254.5 2224.6,1181.4 2238.1,1196.0 2251.7,1179.9 2265.2,1243.5 2278.7,1242.8 2292.3,1182.1 2305.8,1149.9 2319.3,1209.2 2332.9,1220.9 2346.4,1222.3 2359.9,1188.7 2373.5,1196.7 2387.0,1225.3 2400.6,1193.1 2414.1,1226.7 2427.6,1272.8 2441.2,1262.6 2454.7,1251.6 2468.2,1240.6 2481.8,1238.4 2495.3,1174.1 2508.8,1232.6 2522.4,1237.0 2535.9,1211.4 2549.4,1218.7 2563.0,1201.9" fill="none" stroke="#00aeea" stroke-width="2.3" stroke-linejoin="round" stroke-linecap="round"/>
<polyline points="1872.7,1226.7 1886.2,1266.2 1899.8,1222.3 1913.3,1249.4 1926.8,1261.8 1940.4,1207.7 1953.9,1228.9 1967.4,1225.3 1981.0,1286.0 1994.5,1236.2 2008.0,1252.3 2021.6,1215.8 2035.1,1213.6 2048.7,1215.8 2062.2,1238.4 2075.7,1223.8 2089.3,1210.6 2102.8,1222.3" fill="none" stroke="#7030a0" stroke-width="6.2" stroke-linejoin="round" stroke-linecap="round"/>
<path d="M2064.8 961.3h56.0" stroke="#92d050" stroke-width="2.3" stroke-linecap="round" fill="none"/>
<text class="lg" x="2128.0" y="968.3" textLength="43.6" lengthAdjust="spacingAndGlyphs">2018</text>
<text class="lgy" x="2170.8" y="968.4">年</text>
<path d="M2206.5 961.3h56.0" stroke="#e0404c" stroke-width="2.3" stroke-linecap="round" fill="none"/>
<text class="lg" x="2269.7" y="968.3" textLength="43.6" lengthAdjust="spacingAndGlyphs">2019</text>
<text class="lgy" x="2312.5" y="968.4">年</text>
<path d="M2347.8 961.3h56.0" stroke="#000000" stroke-width="1.8" stroke-linecap="round" fill="none"/>
<text class="lg" x="2411.0" y="968.3" textLength="43.6" lengthAdjust="spacingAndGlyphs">2020</text>
<text class="lgy" x="2453.8" y="968.4">年</text>
<path d="M2064.8 984.3h56.0" stroke="#00aeea" stroke-width="2.3" stroke-linecap="round" fill="none"/>
<text class="lg" x="2128.0" y="991.3" textLength="43.6" lengthAdjust="spacingAndGlyphs">2021</text>
<text class="lgy" x="2170.8" y="991.4">年</text>
<path d="M2206.5 984.3h56.0" stroke="#7030a0" stroke-width="6.2" stroke-linecap="round" fill="none"/>
<text class="lg" x="2269.7" y="991.3" textLength="43.6" lengthAdjust="spacingAndGlyphs">2022</text>
<text class="lgy" x="2312.5" y="991.4">年</text>
<text class="kt ct" y="882.7"><tspan x="1829.55">日本</tspan><tspan x="1911.75">:</tspan><tspan x="1926.75">产量</tspan><tspan x="2008.95">:</tspan><tspan x="2023.95">炼化制品</tspan><tspan x="2184.95">:</tspan><tspan x="2199.95">航空煤油</tspan><tspan x="2364.15">(</tspan><tspan x="2377.25">百</tspan></text>
<text class="kt ct" y="930.1"><tspan x="2043.95">万升</tspan><tspan x="2126.7">/</tspan><tspan x="2141.94">周</tspan><tspan x="2181.5">)</tspan></text></g>
</svg>
<div class="vh">
<h2>基本面-中观需求</h2>
<h1>日本成品油产量分化，石脑油产量大幅波动</h1>
<p>三立期货 SANLI FUTURES</p>
<p>日本:产量:炼化制品:石脑油(百万升/周)</p>
<p>日本:产量:炼化制品:汽油(百万升/周)</p>
<p>日本:产量:炼化制品:柴油(百万升/周)</p>
<p>日本:产量:炼化制品:煤油(百万升/周)</p>
<p>日本:产量:炼化制品:航空煤油(百万升/周)</p>
<p>2018年 2019年 2020年 2021年 2022年</p>
</div>
</body></html>
